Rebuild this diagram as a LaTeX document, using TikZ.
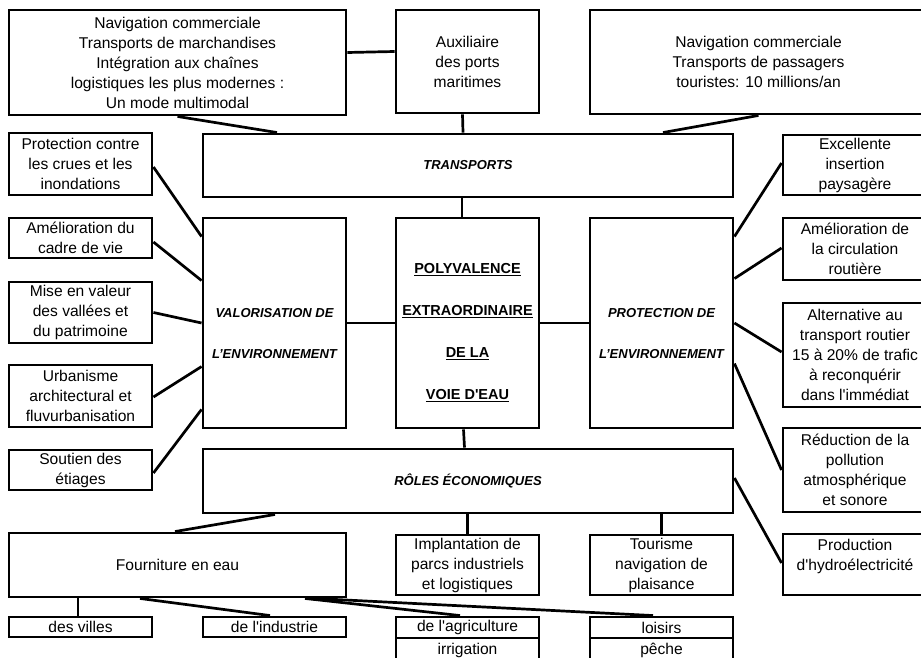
\documentclass[tikz,border=0pt]{standalone}
\usepackage{fontspec}
\setmainfont{Liberation Sans}
\usepackage{tikz}
\newcommand{\aq}{\textquotesingle}
\newcommand{\polyul}[1]{\setbox0\hbox{#1}\leavevmode\rlap{\rule[-2.6pt]{\wd0}{1.5pt}}\box0}

\begin{document}
\begin{tikzpicture}[x=1pt, y=-1pt,
  infobox/.style={draw, line width=2.9pt, rectangle, inner sep=0pt, align=center,
                  font=\fontsize{15.6}{20}\selectfont, minimum width=143pt},
  headtext/.style={align=center, font=\fontsize{13}{41}\selectfont\bfseries\itshape},
  connector/.style={line width=2.7pt}]
  \useasboundingbox (0,0) rectangle (921,658);

  % ---- Top row ----
  \node[infobox, minimum width=337pt, minimum height=105pt] (navmarch) at (177.5,62.5)
    {Navigation commerciale\\Transports de marchandises\\Intégration aux chaînes\\logistiques les plus modernes :\\Un mode multimodal};
  \node[infobox, minimum height=103pt] (aux) at (467.5,61.5) {Auxiliaire\\des ports\\maritimes};
  \node[infobox, minimum width=337pt, minimum height=104pt] (navpass) at (758.5,62)
    {Navigation commerciale\\Transports de passagers\\touristes: 10 millions/an};

  % ---- Centre ----
  \node[infobox, minimum width=530pt, minimum height=63pt] (transp) at (468,165.5)
    {\fontsize{13}{16}\selectfont\bfseries\itshape TRANSPORTS};
  \node[infobox, minimum height=210pt] (valo) at (274.5,323) {};
  \node[infobox, minimum height=210pt] (poly) at (467.5,323) {};
  \node[infobox, minimum height=210pt] (prot) at (661.5,323) {};
  \node[headtext] (valotxt) at ([yshift=-10.5pt]valo.center) {VALORISATION DE\\L’ENVIRONNEMENT};
  \node[headtext] (prottxt) at ([yshift=-10.5pt]prot.center) {PROTECTION DE\\L’ENVIRONNEMENT};
  \node[align=center, font=\fontsize{14.5}{42}\selectfont\bfseries] (polytxt) at ([yshift=-10pt]poly.center)
    {\polyul{POLYVALENCE}\\\polyul{EXTRAORDINAIRE}\\\polyul{DE LA}\\\polyul{VOIE D\aq EAU}};
  \node[infobox, minimum width=530pt, minimum height=64pt] (roles) at (468,481)
    {\fontsize{13}{16}\selectfont\bfseries\itshape RÔLES ÉCONOMIQUES};

  % ---- Left column ----
  \node[infobox, minimum height=62pt] (crues) at (80.5,164) {Protection contre\\les crues et les\\inondations};
  \node[infobox, minimum height=40pt] (cadre) at (80.5,238) {Amélioration du\\cadre de vie};
  \node[infobox, minimum height=61pt] (valeur) at (80.5,312.5) {Mise en valeur\\des vallées et\\du patrimoine};
  \node[infobox, minimum height=62pt] (urba) at (80.5,396) {Urbanisme\\architectural et\\fluvurbanisation};
  \node[infobox, minimum height=40pt] (etiages) at (80.5,470) {Soutien des\\étiages};

  % ---- Right column ----
  \node[infobox, minimum width=144pt, minimum height=60pt] (paysage) at (855,165) {Excellente\\insertion\\paysagère};
  \node[infobox, minimum width=144pt, minimum height=62pt] (circul) at (855,249) {Amélioration de\\la circulation\\routière};
  \node[infobox, minimum width=144pt, minimum height=104pt] (altern) at (855,355)
    {Alternative au\\transport routier\\15 à 20\% de trafic\\à reconquérir\\dans l\aq immédiat};
  \node[infobox, minimum width=144pt, minimum height=84pt] (pollu) at (855,470)
    {Réduction de la\\pollution\\atmosphérique\\et sonore};
  \node[infobox, minimum width=144pt, minimum height=61pt] (hydro) at (855,564.5)
    {Production\\d\aq hydroélectricité\\\mbox{}};

  % ---- Bottom rows ----
  \node[infobox, minimum width=337pt, minimum height=64pt] (fourn) at (177.5,565) {Fourniture en eau};
  \node[infobox, minimum height=60pt] (implant) at (467.5,565) {Implantation de\\parcs industriels\\et logistiques};
  \node[infobox, minimum height=60pt] (touris) at (661.5,565) {Tourisme\\navigation de\\plaisance};
  \node[infobox, minimum height=20pt] (villes) at (80.5,627) {des villes};
  \node[infobox, minimum height=20pt] (indus) at (274.5,627) {de l\aq industrie};
  \node[infobox, minimum height=21pt] (agri) at (467.5,627.5) {de l\aq agriculture};
  \node[infobox, minimum height=24pt] (irrig) at (467.5,650) {irrigation};
  \node[infobox, minimum height=21pt] (loisirs) at (661.5,627.5) {loisirs};
  \node[infobox, minimum height=24pt] (peche) at (661.5,650) {pêche};

  % connectors, top
  \draw[connector] ([yshift=10pt]navmarch.east) -- ([yshift=10pt]aux.west);
  \draw[connector] (navmarch.south) -- ([xshift=-191pt]transp.north);
  \draw[connector] ([xshift=-5pt]aux.south) -- ([xshift=-5pt]transp.north);
  \draw[connector] (navpass.south) -- ([xshift=195pt]transp.north);
  \draw[connector] ([xshift=-6pt]transp.south) -- ([xshift=-5.5pt]poly.north);
  \draw[connector] ([xshift=-4pt]poly.south) -- ([xshift=-3.5pt]roles.north);
  \draw[connector] (valo.east) -- (poly.west);
  \draw[connector] (poly.east) -- (prot.west);

  % connectors, left
  \draw[connector] ([yshift=-3pt]crues.east) -- ([yshift=-20pt]valo.north west);
  \draw[connector] ([yshift=-4pt]cadre.east) -- ([yshift=-64pt]valo.north west);
  \draw[connector] (valeur.east) -- (valo.west);
  \draw[connector] ([yshift=-1pt]urba.east) -- ([yshift=-150pt]valo.north west);
  \draw[connector] ([yshift=-3pt]etiages.east) -- ([yshift=20pt]valo.south west);

  % connectors, right
  \draw[connector] ([yshift=-20pt]prot.north east) -- ([yshift=2pt]paysage.west);
  \draw[connector] ([yshift=-62pt]prot.north east) -- ([yshift=1pt]circul.west);
  \draw[connector] (prot.east) -- ([yshift=3pt]altern.west);
  \draw[connector] ([yshift=-147pt]prot.north east) -- (pollu.west);
  \draw[connector] ([yshift=3pt]roles.east) -- ([yshift=1.5pt]hydro.west);

  % connectors, bottom
  \draw[connector] ([xshift=-193pt]roles.south) -- ([xshift=-2.5pt]fourn.north);
  \draw[connector] (implant.north) -- (implant.north |- roles.south);
  \draw[connector] (touris.north) -- (touris.north |- roles.south);
  \draw[connector] ([xshift=-2.5pt]villes.north) -- ([xshift=-2.5pt]villes.north |- fourn.south);
  \draw[connector] ([xshift=-37.5pt]fourn.south) -- ([xshift=-4.5pt]indus.north);
  \draw[connector] ([xshift=127.5pt]fourn.south) -- ([xshift=-7.5pt]agri.north);
  \draw[connector] ([xshift=137.5pt]fourn.south) -- ([xshift=-8.5pt]loisirs.north);
\end{tikzpicture}
\end{document}
